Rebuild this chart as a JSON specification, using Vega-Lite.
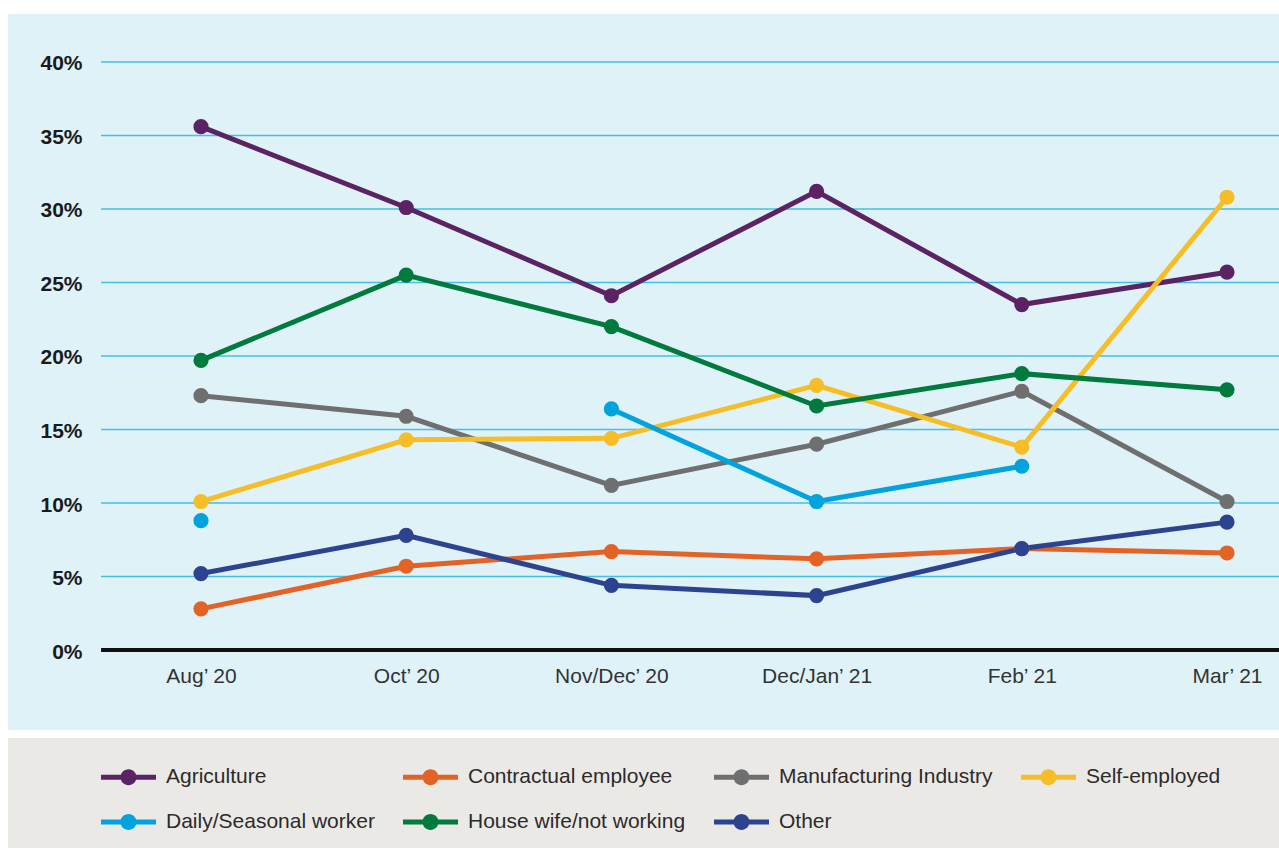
{
  "$schema": "https://vega.github.io/schema/vega-lite/v6.json",
  "width": 1271,
  "height": 834,
  "padding": {"left": 8, "top": 14, "right": 0, "bottom": 0},
  "autosize": {"type": "none"},
  "background": "white",
  "config": {"view": {"fill": "#dff2f8", "stroke": null}},
  "datasets": {
    "series": [
      {"period": "Aug’ 20", "t": 0, "category": "Agriculture", "value": 35.6},
      {"period": "Oct’ 20", "t": 1, "category": "Agriculture", "value": 30.1},
      {"period": "Nov/Dec’ 20", "t": 2, "category": "Agriculture", "value": 24.1},
      {"period": "Dec/Jan’ 21", "t": 3, "category": "Agriculture", "value": 31.2},
      {"period": "Feb’ 21", "t": 4, "category": "Agriculture", "value": 23.5},
      {"period": "Mar’ 21", "t": 5, "category": "Agriculture", "value": 25.7},
      {"period": "Aug’ 20", "t": 0, "category": "Contractual employee", "value": 2.8},
      {"period": "Oct’ 20", "t": 1, "category": "Contractual employee", "value": 5.7},
      {"period": "Nov/Dec’ 20", "t": 2, "category": "Contractual employee", "value": 6.7},
      {"period": "Dec/Jan’ 21", "t": 3, "category": "Contractual employee", "value": 6.2},
      {"period": "Feb’ 21", "t": 4, "category": "Contractual employee", "value": 6.9},
      {"period": "Mar’ 21", "t": 5, "category": "Contractual employee", "value": 6.6},
      {"period": "Aug’ 20", "t": 0, "category": "Manufacturing Industry", "value": 17.3},
      {"period": "Oct’ 20", "t": 1, "category": "Manufacturing Industry", "value": 15.9},
      {"period": "Nov/Dec’ 20", "t": 2, "category": "Manufacturing Industry", "value": 11.2},
      {"period": "Dec/Jan’ 21", "t": 3, "category": "Manufacturing Industry", "value": 14.0},
      {"period": "Feb’ 21", "t": 4, "category": "Manufacturing Industry", "value": 17.6},
      {"period": "Mar’ 21", "t": 5, "category": "Manufacturing Industry", "value": 10.1},
      {"period": "Aug’ 20", "t": 0, "category": "Self-employed", "value": 10.1},
      {"period": "Oct’ 20", "t": 1, "category": "Self-employed", "value": 14.3},
      {"period": "Nov/Dec’ 20", "t": 2, "category": "Self-employed", "value": 14.4},
      {"period": "Dec/Jan’ 21", "t": 3, "category": "Self-employed", "value": 18.0},
      {"period": "Feb’ 21", "t": 4, "category": "Self-employed", "value": 13.8},
      {"period": "Mar’ 21", "t": 5, "category": "Self-employed", "value": 30.8},
      {"period": "Aug’ 20", "t": 0, "category": "Daily/Seasonal worker", "value": 8.8},
      {"period": "Oct’ 20", "t": 1, "category": "Daily/Seasonal worker", "value": null},
      {"period": "Nov/Dec’ 20", "t": 2, "category": "Daily/Seasonal worker", "value": 16.4},
      {"period": "Dec/Jan’ 21", "t": 3, "category": "Daily/Seasonal worker", "value": 10.1},
      {"period": "Feb’ 21", "t": 4, "category": "Daily/Seasonal worker", "value": 12.5},
      {"period": "Mar’ 21", "t": 5, "category": "Daily/Seasonal worker", "value": null},
      {"period": "Aug’ 20", "t": 0, "category": "House wife/not working", "value": 19.7},
      {"period": "Oct’ 20", "t": 1, "category": "House wife/not working", "value": 25.5},
      {"period": "Nov/Dec’ 20", "t": 2, "category": "House wife/not working", "value": 22.0},
      {"period": "Dec/Jan’ 21", "t": 3, "category": "House wife/not working", "value": 16.6},
      {"period": "Feb’ 21", "t": 4, "category": "House wife/not working", "value": 18.8},
      {"period": "Mar’ 21", "t": 5, "category": "House wife/not working", "value": 17.7},
      {"period": "Aug’ 20", "t": 0, "category": "Other", "value": 5.2},
      {"period": "Oct’ 20", "t": 1, "category": "Other", "value": 7.8},
      {"period": "Nov/Dec’ 20", "t": 2, "category": "Other", "value": 4.4},
      {"period": "Dec/Jan’ 21", "t": 3, "category": "Other", "value": 3.7},
      {"period": "Feb’ 21", "t": 4, "category": "Other", "value": 6.9},
      {"period": "Mar’ 21", "t": 5, "category": "Other", "value": 8.7}
    ],
    "grid": [{"g": 5}, {"g": 10}, {"g": 15}, {"g": 20}, {"g": 25}, {"g": 30}, {"g": 35}, {"g": 40}]
  },
  "layer": [
    {
      "data": {"values": [{}]},
      "mark": {"type": "rect", "color": "#ebe9e6"},
      "encoding": {
        "x": {"datum": -0.9405, "type": "quantitative"},
        "x2": {"datum": 5.2534},
        "y": {"datum": -13.469, "type": "quantitative"},
        "y2": {"datum": -5.986}
      }
    },
    {
      "data": {"values": [{}]},
      "mark": {"type": "rect", "color": "#ffffff"},
      "encoding": {
        "x": {"datum": -0.9405, "type": "quantitative"},
        "x2": {"datum": 5.2534},
        "y": {"datum": -5.986, "type": "quantitative"},
        "y2": {"datum": -5.442}
      }
    },
    {
      "data": {"name": "grid"},
      "mark": {"type": "rule", "color": "#45bfe6", "strokeWidth": 1.5},
      "encoding": {
        "x": {"datum": -0.487, "type": "quantitative"},
        "x2": {"datum": 5.2534},
        "y": {"field": "g", "type": "quantitative"}
      }
    },
    {
      "data": {"values": [{}]},
      "mark": {"type": "rule", "color": "#111111", "strokeWidth": 4},
      "encoding": {
        "x": {"datum": -0.487, "type": "quantitative"},
        "x2": {"datum": 5.2534},
        "y": {"datum": 0, "type": "quantitative"}
      }
    },
    {
      "data": {"name": "series"},
      "mark": {"type": "line", "strokeWidth": 5, "invalid": "break-paths-filter-domains"},
      "encoding": {
        "x": {
          "field": "t", "type": "quantitative",
          "scale": {"domain": [-0.9405, 5.2534], "nice": false, "zero": false},
          "axis": {
            "values": [0, 1, 2, 3, 4, 5],
            "labelExpr": "['Aug’ 20','Oct’ 20','Nov/Dec’ 20','Dec/Jan’ 21','Feb’ 21','Mar’ 21'][datum.value]",
            "orient": "bottom", "offset": -198,
            "domain": false, "ticks": false, "tickSize": 0, "grid": false,
            "labelFont": "Liberation Sans", "labelFontSize": 21, "labelColor": "#333333",
            "labelPadding": 15, "labelFlush": false, "labelOverlap": false, "title": null
          }
        },
        "y": {
          "field": "value", "type": "quantitative",
          "scale": {"domain": [-13.469, 43.265], "nice": false, "zero": false},
          "axis": {
            "values": [0, 5, 10, 15, 20, 25, 30, 35, 40],
            "labelExpr": "datum.value + '%'",
            "offset": -93,
            "domain": false, "ticks": false, "tickSize": 0, "grid": false,
            "labelFont": "Liberation Sans", "labelFontWeight": "bold", "labelFontSize": 21,
            "labelColor": "#1a1a1a", "labelPadding": 19, "labelOffset": 2, "labelOverlap": false, "title": null
          }
        },
        "color": {
          "field": "category", "type": "nominal",
          "scale": {
            "domain": ["Agriculture", "Contractual employee", "Manufacturing Industry", "Self-employed", "Daily/Seasonal worker", "House wife/not working", "Other"],
            "range": ["#5b2363", "#e36226", "#6f6f6f", "#f6bd26", "#00a3de", "#007a3d", "#2c4390"]
          },
          "legend": {
            "orient": "none", "legendX": 93, "legendY": 735.5,
            "direction": "horizontal",
            "columns": 4, "title": null, "padding": 0,
            "symbolType": "M-1,-0.09H1V0.09H-1Z M-0.29,0A0.29,0.29 0 1 1 0.29,0A0.29,0.29 0 1 1 -0.29,0Z",
            "symbolSize": 3025, "symbolStrokeWidth": 0,
            "labelFont": "Liberation Sans", "labelFontSize": 21, "labelColor": "#2b2b2b",
            "labelOffset": 10, "columnPadding": 28, "rowPadding": 7, "labelLimit": 400,
            "encode": {"symbols": {"update": {"fill": {"scale": "color", "field": "value"}, "opacity": {"value": 1}, "strokeWidth": {"value": 0}}}}
          }
        }
      }
    },
    {
      "data": {"name": "series"},
      "mark": {"type": "point", "filled": true, "size": 230, "opacity": 1},
      "encoding": {
        "x": {"field": "t", "type": "quantitative"},
        "y": {"field": "value", "type": "quantitative"},
        "color": {"field": "category", "type": "nominal"}
      }
    }
  ]
}
